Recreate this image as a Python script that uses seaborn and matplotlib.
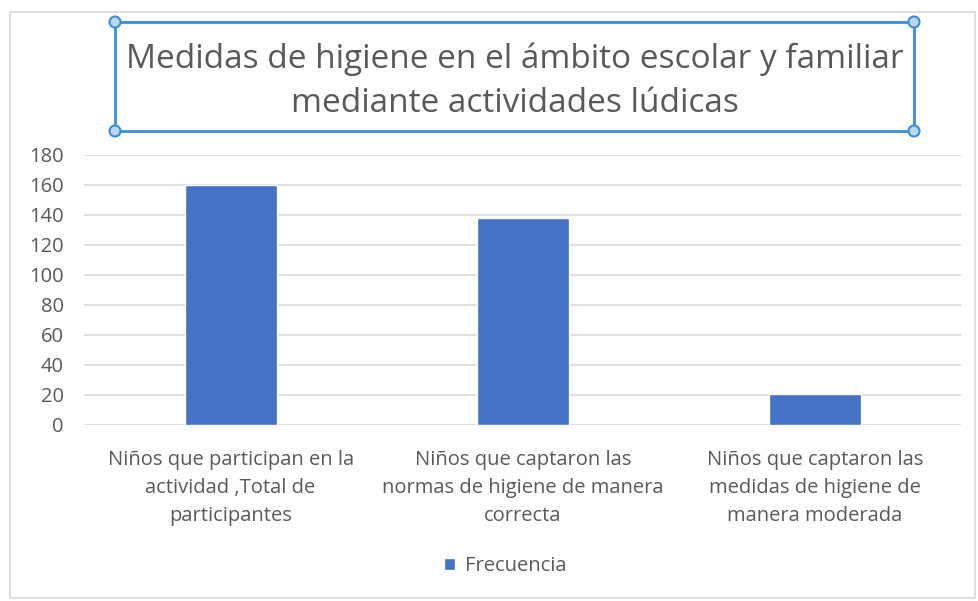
import matplotlib
matplotlib.use('Agg')
import matplotlib.pyplot as plt
import seaborn as sns
import pandas as pd
from matplotlib.patches import Rectangle, Circle

# 数据
categorias = [
    'Niños que participan en la\nactividad ,Total de\nparticipantes',
    'Niños que captaron las\nnormas de higiene de manera\ncorrecta',
    'Niños que captaron las\nmedidas de higiene de\nmanera moderada',
]
frecuencia = [160, 138, 21]
serie = 'Frecuencia'
titulo = 'Medidas de higiene en el ámbito escolar y familiar\nmediante actividades lúdicas'
yticks = [0, 20, 40, 60, 80, 100, 120, 140, 160, 180]

color_barra = '#4472C4'
gris = '#595959'
fs = 14.5

sns.set_theme(style='white')
plt.rcParams['font.family'] = ['Open Sans', 'DejaVu Sans']

df = pd.DataFrame({'categoria': categorias, 'valor': frecuencia, 'serie': serie})

fig = plt.figure(figsize=(9.79, 6.01), dpi=100)
ax = fig.add_axes([84.5 / 979, 1 - 425 / 601, 876.5 / 979, (425 - 155) / 601])

sns.barplot(data=df, x='categoria', y='valor', hue='serie', palette=[color_barra],
            saturation=1, width=0.315, ax=ax, zorder=3)

ax.set_ylim(0, 180)
ax.set_yticks(yticks)
ax.set_yticklabels([str(v) for v in yticks], color=gris, fontsize=fs)
ax.set_xlabel('')
ax.set_ylabel('')
ax.tick_params(axis='x', colors=gris, labelsize=fs, length=0, pad=18)
ax.tick_params(axis='y', length=0, pad=15)
for lbl in ax.get_xticklabels():
    lbl.set_linespacing(1.52)
ax.yaxis.grid(True, color='#D9D9D9', linewidth=1.2, zorder=0)
for s in ax.spines.values():
    s.set_visible(False)

# 图例
leg = ax.legend(loc='center', bbox_to_anchor=(505 / 979, 1 - 566 / 601), bbox_transform=fig.transFigure,
                frameon=False, fontsize=fs, handlelength=0.55, handleheight=0.6, handletextpad=0.5)
for t in leg.get_texts():
    t.set_color(gris)

# 外框
fig.patches.append(Rectangle((10 / 979, 1 - 598 / 601), 965 / 979, 586 / 601, transform=fig.transFigure,
                             fill=False, edgecolor='#D9D9D9', linewidth=1.2))

# 标题框
x0, x1 = 115 / 979, 914 / 979
y0, y1 = 1 - 131 / 601, 1 - 22 / 601
fig.patches.append(Rectangle((x0, y0), x1 - x0, y1 - y0, transform=fig.transFigure,
                             fill=False, edgecolor='#3C8CDC', linewidth=2))
for (cx, cy) in [(x0, y0), (x0, y1), (x1, y0), (x1, y1)]:
    fig.patches.append(Circle((cx * 979, cy * 601), 5.5, transform=None,
                              facecolor='#BDD7EE', edgecolor='#3C8CDC', linewidth=1.5))
fig.text(0.5 * (x0 + x1), 1 - 81 / 601, titulo, ha='center', va='center',
         fontsize=24, color=gris, linespacing=1.42)

fig.savefig('out.png', dpi=100)
